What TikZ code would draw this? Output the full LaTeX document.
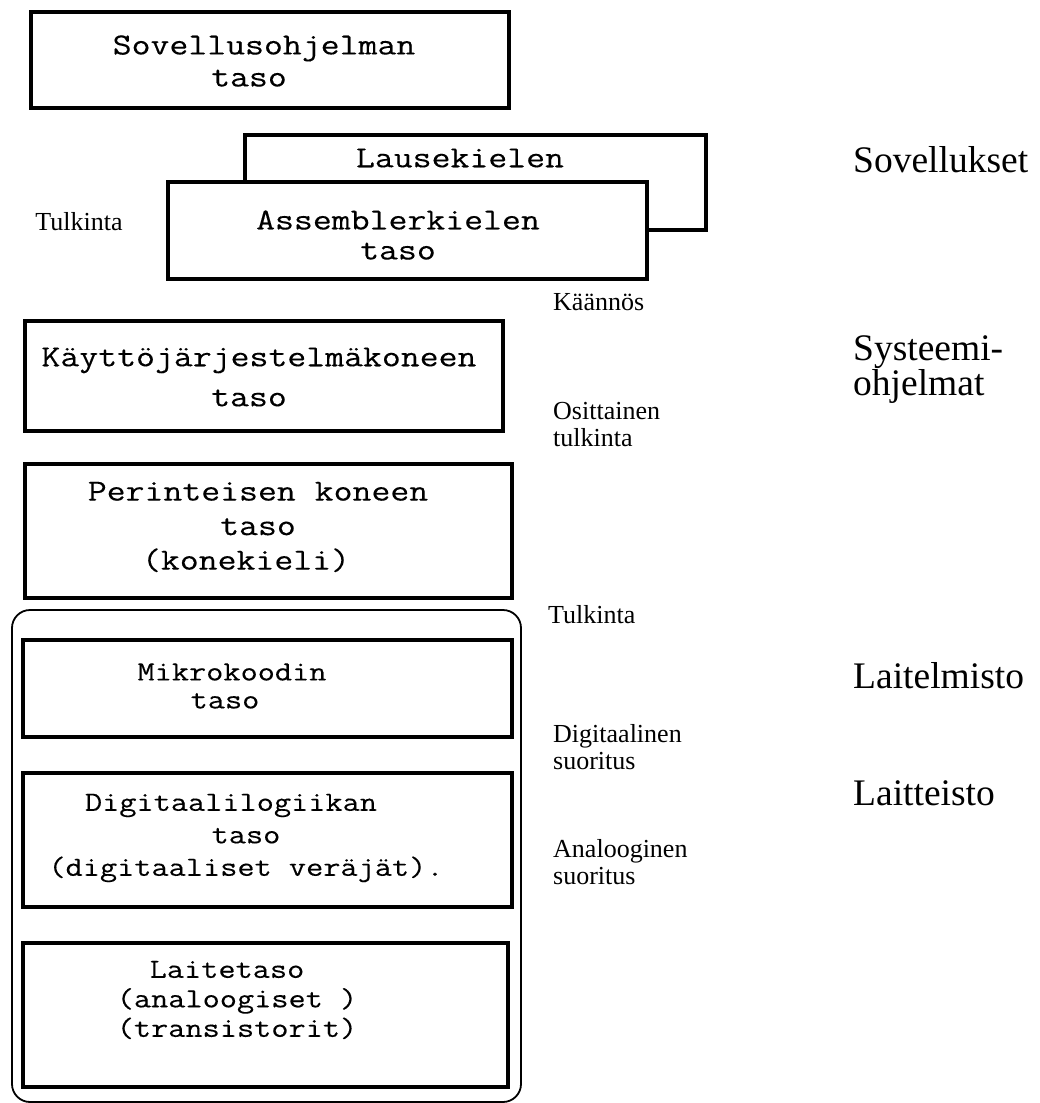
\documentclass[tikz,border=0pt]{standalone}
\usepackage{fontspec}
\setmainfont{Liberation Serif}
\setmonofont{Latin Modern Mono}[FakeStretch=1.2,FakeBold=0.25]
\begin{document}
\begin{tikzpicture}[x=1pt,y=-1pt,
  lvlbox/.style={draw=black, line width=3.6pt, fill=white, inner sep=0pt, outer sep=0pt},
  monoup/.style={font=\ttfamily\fontsize{30.6}{32}\selectfont, align=center, inner sep=0pt},
  monolow/.style={font=\ttfamily\fontsize{27.8}{30}\selectfont, align=center, inner sep=0pt},
  smalllab/.style={font=\fontsize{26}{27}\selectfont, align=left, inner sep=0pt, anchor=west},
  biglab/.style={font=\fontsize{37.5}{33}\selectfont, align=left, inner sep=0pt, anchor=west},
  hwframe/.style={draw=black, line width=1.8pt, rounded corners=18pt, inner sep=0pt}]
\useasboundingbox (0,0) rectangle (1040,1103);

% application level
\node[lvlbox, minimum width=478pt, minimum height=96pt] (app) at (270,60) {};
\node[monoup] (apptxt) at (264,61) {Sovellusohjelman\\taso\hspace*{30pt}};

% high level language (behind)
\node[lvlbox, minimum width=461pt, minimum height=95pt] (hll) at (475.5,182.5) {};
\node[monoup] (hlltxt) at (460,158) {Lausekielen};

% assembler
\node[lvlbox, minimum width=479pt, minimum height=97pt] (asm) at (407.5,230.5) {};
\node[monoup, font=\ttfamily\fontsize{30.6}{30}\selectfont] (asmtxt) at (398,235) {Assemblerkielen\\taso};

% operating system machine
\node[lvlbox, minimum width=478pt, minimum height=110pt] (os) at (264,376) {};
\node[monoup, font=\ttfamily\fontsize{30.6}{40}\selectfont] (ostxt) at (259,377) {K\"ayttöjärjestelmäkoneen\\taso\hspace*{20pt}};

% conventional machine
\node[lvlbox, minimum width=487pt, minimum height=134pt] (conv) at (268.5,531) {};
\node[monoup, font=\ttfamily\fontsize{30.6}{34.5}\selectfont] (convtxt) at (258,527) {Perinteisen koneen\\taso\hspace*{34pt}\\(konekieli)\hspace*{24pt}};

% hardware frame
\node[hwframe, minimum width=509pt, minimum height=492pt] (hw) at (266.5,856) {};

% microcode
\node[lvlbox, minimum width=489pt, minimum height=97pt] (micro) at (267.5,688.5) {};
\node[monolow, font=\ttfamily\fontsize{27.8}{28}\selectfont] (microtxt) at (232,686) {Mikrokoodin\\taso\hspace*{14pt}};

% digital logic
\node[lvlbox, minimum width=489pt, minimum height=134pt] (dig) at (267.5,840) {};
\node[monolow, font=\ttfamily\fontsize{27.8}{32.5}\selectfont] (digtxt) at (246,838) {Digitaalilogiikan\hspace*{30pt}\\taso\hspace*{42pt}\\(digitaaliset veräjät).};

% device level
\node[lvlbox, minimum width=485pt, minimum height=144pt] (dev) at (265.5,1015) {};
\node[monolow, font=\ttfamily\fontsize{27.8}{29.5}\selectfont] (devtxt) at (237,1000) {Laitetaso\hspace*{20pt}\\(analoogiset )\\(transistorit)};

% process labels
\node[smalllab, anchor=center] (l1) at (79,222) {Tulkinta};
\node[smalllab] (l2) at (553,302) {Käännös};
\node[smalllab] (l3) at (553,425) {Osittainen\\tulkinta};
\node[smalllab] (l4) at (548,615) {Tulkinta};
\node[smalllab] (l5) at (553,747) {Digitaalinen\\suoritus};
\node[smalllab] (l6) at (553,862) {Analooginen\\suoritus};

% category labels
\node[biglab] (c1) at (853,160) {Sovellukset};
\node[biglab] (c2) at (853,370) {Systeemi-\\ohjelmat};
\node[biglab] (c3) at (853,676) {Laitelmisto};
\node[biglab] (c4) at (853,793) {Laitteisto};
\end{tikzpicture}
\end{document}
